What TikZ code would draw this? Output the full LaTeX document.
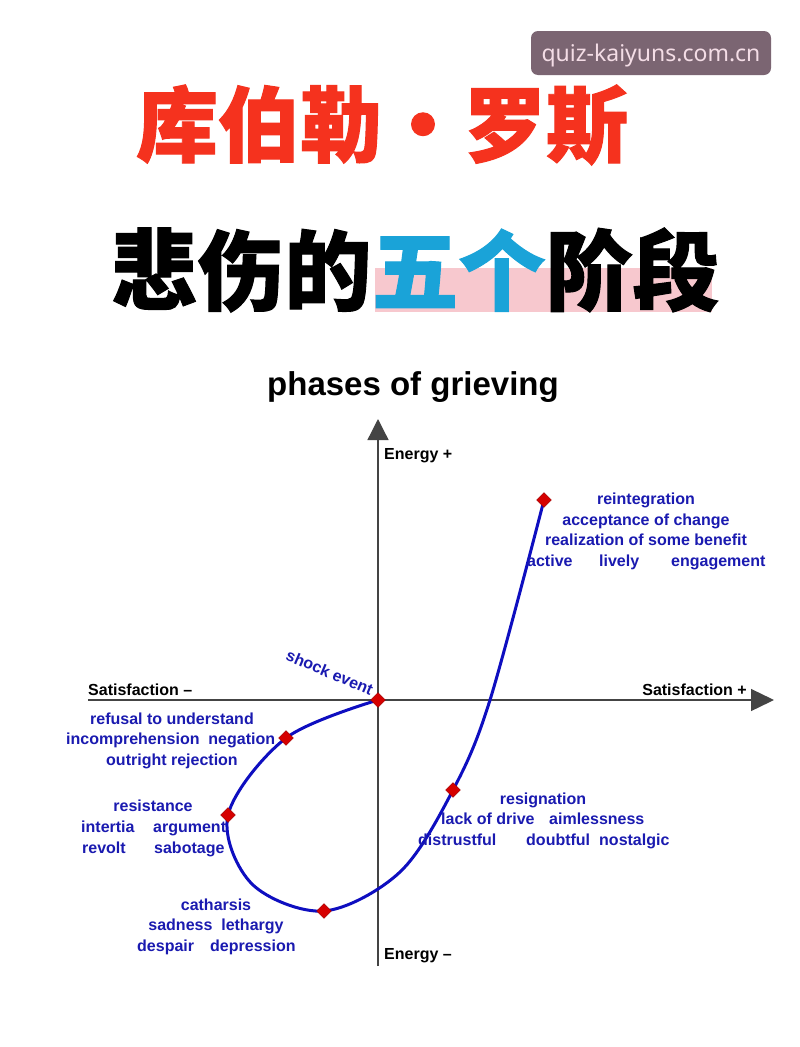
\documentclass[tikz,border=0pt]{standalone}
\usepackage{fontspec}
\setmainfont{Liberation Sans}
\newfontfamily\cjk[BoldFeatures={FakeBold=1.2}]{Noto Sans CJK SC}
\newfontfamily\wmfont{Noto Sans}
\usetikzlibrary{arrows.meta,shapes.geometric}
\definecolor{lblue}{HTML}{1A1AB0}
\definecolor{cblue}{HTML}{0E0EC0}
\definecolor{dred}{HTML}{D60000}
\definecolor{tred}{HTML}{F5321E}
\definecolor{tcyan}{HTML}{1AA3D8}
\definecolor{tpink}{HTML}{F7C8CE}
\definecolor{wmbg}{HTML}{7B6572}
\definecolor{wmtx}{HTML}{F4DDE6}
\definecolor{axisc}{HTML}{444444}
\tikzset{
  lab/.style={text=lblue,font=\fontsize{16}{19}\selectfont\bfseries,inner sep=0pt,text height=11.5pt,text depth=3.4pt},
  axlab/.style={text=black,font=\fontsize{16}{19}\selectfont\bfseries,inner sep=0pt,text height=11.5pt,text depth=3.4pt},
  dia/.style={diamond,fill=dred,draw=red!60!black,line width=0.4pt,minimum size=15pt,inner sep=0pt},
  axis/.style={draw=axisc,line width=1.3pt},
  curve/.style={draw=cblue,line width=3pt}
}
\begin{document}
\begin{tikzpicture}[x=1pt,y=-1pt]
\useasboundingbox (0,0) rectangle (800,1047);
\fill[white] (0,0) rectangle (800,1047);
% watermark
\fill[wmbg,rounded corners=7pt] (531,31) rectangle (771,75);
\node[inner sep=0pt,text=wmtx,font=\wmfont\fontsize{23}{26}\selectfont,text height=17pt,text depth=5pt] (wm) at (651,55) {quiz-kaiyuns.com.cn};
% titles
\node[text=tred,font=\cjk\bfseries\fontsize{82}{90}\selectfont,inner sep=0pt] (t1) at (382,125) {库伯勒·罗斯};
\fill[tpink] (375,268) rectangle (712,312);
\node[font=\cjk\bfseries\fontsize{87}{95}\selectfont,inner sep=0pt] (t2) at (415,270) {悲伤的\textcolor{tcyan}{五个}阶段};
\node[font=\fontsize{33}{38}\selectfont\bfseries,inner sep=0pt] (t3) at (413,387) {phases of grieving};
% axes
\coordinate (ybot) at (378,966);
\coordinate (ytop) at (378,419);
\coordinate (xl) at (88,700);
\coordinate (xr) at (774,700);
\draw[axis,-{Triangle[length=21pt,width=21pt]}] (ybot) -- (ytop);
\draw[axis,-{Triangle[length=23pt,width=22pt]}] (xl) -- (xr);
\node[axlab,anchor=west] (ep) at (384,455) {Energy +};
\node[axlab,anchor=west] (em) at (384,955) {Energy –};
\node[axlab,anchor=west] (sm) at (88,691) {Satisfaction –};
\node[axlab,anchor=east] (sp) at (747,691) {Satisfaction +};
% curve points
\coordinate (p0) at (378,700);
\coordinate (p1) at (286,738);
\coordinate (p2) at (228,815);
\coordinate (p3) at (324,911);
\coordinate (p4) at (453,790);
\coordinate (p5) at (544,500);
\draw[curve] plot[smooth,tension=0.55] coordinates {(p0) (p1) (p2) (252,884) (p3) (400,872) (p4) (490,700) (p5)};
\foreach \p in {p0,p1,p2,p3,p4,p5} \node[dia] (d\p) at (\p) {};
% labels
\node[lab,rotate=-23] (shock) at (329,674) {shock event};
\node[lab] (r1) at (646,500) {reintegration};
\node[lab] (r2) at (646,521) {acceptance of change};
\node[lab] (r3) at (646,541) {realization of some benefit};
\node[lab,anchor=west] (r4a) at (527,562) {active};
\node[lab,anchor=west] (r4b) at (599,562) {lively};
\node[lab,anchor=west] (r4c) at (671,562) {engagement};
\node[lab] (n1) at (172,720) {refusal to understand};
\node[lab,anchor=west] (n2) at (66,740) {incomprehension\ \ negation};
\node[lab] (n3) at (172,761) {outright rejection};
\node[lab] (s1) at (153,807) {resistance};
\node[lab,anchor=west] (s2a) at (81,828) {intertia};
\node[lab,anchor=west] (s2b) at (153,828) {argument};
\node[lab,anchor=west] (s3a) at (82,849) {revolt};
\node[lab,anchor=west] (s3b) at (154,849) {sabotage};
\node[lab] (c1) at (216,906) {catharsis};
\node[lab] (c2) at (216,926) {sadness\ \ lethargy};
\node[lab,anchor=west] (c3a) at (137,947) {despair};
\node[lab,anchor=west] (c3b) at (210,947) {depression};
\node[lab] (g1) at (543,800) {resignation};
\node[lab,anchor=west] (g2a) at (441,820) {lack of drive};
\node[lab,anchor=west] (g2b) at (549,820) {aimlessness};
\node[lab,anchor=west] (g3a) at (418,841) {distrustful};
\node[lab,anchor=west] (g3b) at (526,841) {doubtful};
\node[lab,anchor=west] (g3c) at (599,841) {nostalgic};
\end{tikzpicture}
\end{document}
